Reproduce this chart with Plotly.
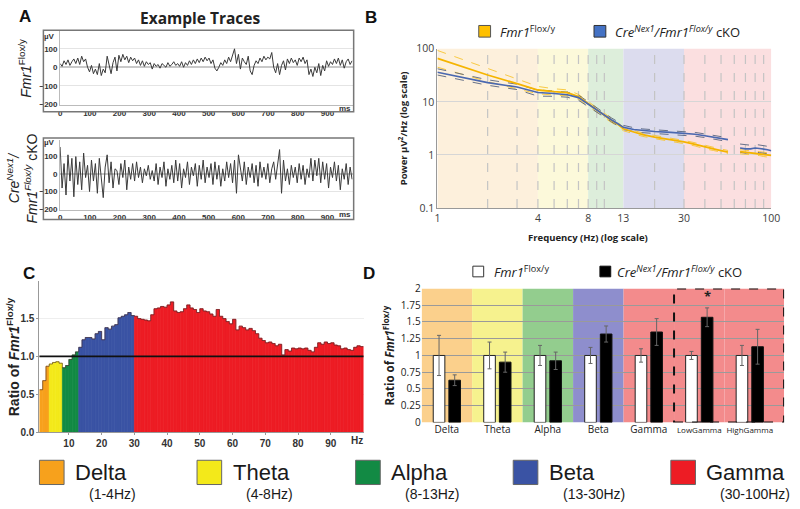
import numpy as np
import plotly.graph_objects as go

W, H = 800, 509

# ---------------- Panel A: example traces (µV) ----------------
trace_span_ms = 983
flox_trace = [20, 5, 35, 15, 40, 10, 30, 45, 20, 50,
              15, 60, 30, 45, 0, -25, 10, -35, -10, -40,
              20, -45, -10, -30, 60, 5, -35, 25, 55, -20,
              65, 30, 70, 40, 60, 25, 55, 35, 50, 20,
              40, 10, 35, 5, 30, 15, 25, -10, 20, 5,
              15, -5, 20, 10, 0, 25, 5, 15, 30, 10,
              20, 5, 30, 0, 25, 10, 35, 15, 40, 20,
              45, 25, 50, 30, 55, 35, 50, 20, 40, -5,
              -20, 0, 25, 10, 40, 20, 55, 30, 65, 100,
              20, 70, -10, 50, 30, 15, 60, -20, -40, 10,
              35, 20, 50, 30, 60, 40, 55, 45, 80, 0,
              -30, 20, -40, 10, 35, -15, 45, 20, 50, 25,
              40, 10, 50, 30, 55, 20, 40, -40, -10, -50,
              0, -30, 20, -45, 10, -20, 35, 5, 30, 15,
              45, 20, 50, 10, 40, -5, 30, 45, 15, 35]
cko_trace = [155, -80, 60, -120, 110, -40, 90, -130, 100, -60,
             70, -90, 120, -20, 50, -100, 80, -40, 60, -110,
             90, -30, -135, 40, 110, -50, 70, -80, 30, 20,
             -60, 60, -20, 80, -90, 40, -30, 60, -40, 70,
             -20, 40, -50, 30, -10, 50, -30, 20, -40, 60,
             -60, 40, -20, 70, -70, 30, -30, 50, -50, 80,
             -40, 60, -80, 30, -20, 70, -60, 40, -10, 60,
             -70, 50, -30, 80, -50, 40, -20, 60, -60, 70,
             -30, 50, -70, 30, -40, 70, -20, 60, -50, 80,
             -110, 110, 20, -40, 70, -60, 40, -20, 60, -50,
             50, -70, 70, -20, 40, -30, 60, -50, 30, 70,
             -30, 50, 140, -110, 80, -40, 30, -60, 50, -20,
             40, -50, 60, -30, 50, -60, 30, -20, 90, -40,
             80, -10, 90, -50, 70, -30, 60, -80, 40, -20,
             70, -40, 50, -90, 30, -30, 60, -60, 40, -30]
trace_xticks = [0, 100, 200, 300, 400, 500, 600, 700, 800, 900]
trace_yticks = [-200, -100, 0, 100]

# ---------------- Panel B: power spectra ----------------
psd_freq = [1, 2, 3, 4, 5, 6, 7, 8, 9, 10, 11, 12, 13, 15, 17, 20, 25, 30, 35, 40, 45, 50, 55, 60,
            65, 70, 75, 80, 85, 90, 95, 100]
flox_mean = [66, 32, 22, 16.7, 15.5, 14.9, 12.5, 9.2, 7.2, 5.6, 4.5, 3.8, 3.1,
             2.7, 2.4, 2.17, 1.95, 1.75, 1.58, 1.4, 1.3, 1.2, 1.13, None,
             1.15, 1.12, 1.12, 1.08, 1.06, 1.02, 1.0, 0.98]
flox_upper = [93, 42, 27, 19.5, 17.6, 16.8, 13.8, 10.1, 7.8, 6.1, 4.9, 4.1, 3.35,
              2.9, 2.57, 2.32, 2.09, 1.87, 1.69, 1.5, 1.39, 1.29, 1.21, None,
              1.25, 1.21, 1.21, 1.17, 1.15, 1.11, 1.09, 1.07]
flox_lower = [45, 24, 17.5, 14.2, 13.4, 13.0, 11.2, 8.3, 6.6, 5.1, 4.1, 3.5, 2.85,
              2.5, 2.23, 2.02, 1.81, 1.63, 1.47, 1.3, 1.21, 1.11, 1.05, None,
              1.05, 1.03, 1.03, 0.99, 0.97, 0.93, 0.91, 0.89]
cko_mean = [36, 23, 19, 15, 14.3, 13.6, 12.0, 9.0, 7.0, 5.5, 4.6, 3.9, 3.3,
            3.0, 2.85, 2.75, 2.65, 2.57, 2.45, 2.3, 2.15, 2.02, 1.94, None,
            1.35, 1.3, 1.3, 1.35, 1.32, 1.3, 1.25, 1.2]
cko_upper = [42, 26, 21.5, 16.7, 16.0, 15.2, 13.4, 10.0, 7.7, 6.0, 5.0, 4.25, 3.6,
             3.25, 3.08, 2.97, 2.86, 2.77, 2.65, 2.48, 2.33, 2.18, 2.1, None,
             1.6, 1.55, 1.52, 1.58, 1.55, 1.5, 1.45, 1.38]
cko_lower = [32, 20.5, 17, 12.8, 12.7, 12.2, 10.7, 8.1, 6.3, 5.0, 4.2, 3.55, 3.0,
             2.76, 2.62, 2.53, 2.44, 2.37, 2.25, 2.12, 1.98, 1.86, 1.78, None,
             1.12, 1.08, 1.1, 1.14, 1.1, 1.08, 1.05, 1.0]
psd_xticks = [1, 4, 8, 13, 30, 100]
psd_yticks = [0.1, 1, 10, 100]
psd_grid_freq = [2, 3, 4, 5, 6, 7, 8, 9, 10, 20, 30, 40, 50, 60, 70, 80, 90]

# ---------------- Bands ----------------
band_names = ["Delta", "Theta", "Alpha", "Beta", "Gamma"]
band_ranges = ["(1-4Hz)", "(4-8Hz)", "(8-13Hz)", "(13-30Hz)", "(30-100Hz)"]
band_edges = [1, 4, 8, 13, 30, 100]
band_colors = ["#f7a11c", "#f3e91a", "#128a44", "#3a53a4", "#ed1c24"]
band_light = ["#fdf0dc", "#fcf9da", "#ddeedb", "#dcdcee", "#fbdfe0"]

# ---------------- Panel C: ratio per 1-Hz bin ----------------
ratio_freq = list(range(1, 100))
ratio_values = [0.56, 0.68, 0.87,
                0.90, 0.92, 0.93, 0.91,
                0.85, 0.88, 0.96, 1.02, 1.06,
                1.12, 1.22, 1.25, 1.25, 1.23, 1.30, 1.33, 1.22, 1.38, 1.36, 1.40, 1.42, 1.51,
                1.53, 1.55, 1.58, 1.54,
                1.53, 1.50, 1.49, 1.48, 1.47, 1.55, 1.63, 1.64, 1.66, 1.65,
                1.68, 1.72, 1.60, 1.58, 1.59, 1.63, 1.68, 1.64, 1.62, 1.58,
                1.63, 1.60, 1.59, 1.56, 1.53, 1.62, 1.53, 1.50, 1.46, 1.43,
                1.49, 1.35, 1.40, 1.38, 1.35, 1.37, 1.34, 1.30, 1.24, 1.21,
                1.18, 1.19, 1.17, 1.14, 1.16, 1.02, 1.09, 1.07, 1.11, 1.10,
                1.11, 1.10, 1.11, 1.08, 1.06, 1.12, 1.18, 1.16, 1.19, 1.17,
                1.18, 1.15, 1.14, 1.10, 1.11, 1.09, 1.08, 1.12, 1.14, 1.13]
ratio_xticks = [10, 20, 30, 40, 50, 60, 70, 80, 90]
ratio_yticks = [0, 0.5, 1.0, 1.5]

# ---------------- Panel D: band ratios ----------------
d_bands = ["Delta", "Theta", "Alpha", "Beta", "Gamma", "LowGamma", "HighGamma"]
d_flox = [1, 1, 1, 1, 1, 1, 1]
d_flox_err = [0.30, 0.20, 0.15, 0.12, 0.10, 0.06, 0.15]
d_cko = [0.63, 0.90, 0.92, 1.32, 1.35, 1.57, 1.13]
d_cko_err = [0.08, 0.15, 0.13, 0.12, 0.20, 0.14, 0.26]
d_bg = ["#fbd08c", "#f6f28e", "#93cd8e", "#8e8ecd", "#f38b8c", "#f38b8c", "#f38b8c"]
d_yticks = [0, 0.25, 0.5, 0.75, 1, 1.25, 1.5, 1.75, 2]
d_signif = "LowGamma"


def PX(x):
    return x / W


def PY(y):
    return 1 - y / H


fig = go.Figure()
shapes = []
anns = []


def ann(text, x, y, size, color="#222", family="Open Sans", angle=0, xanchor="center",
        yanchor="middle", weight="normal"):
    anns.append(dict(text=text, x=PX(x), y=PY(y), xref="paper", yref="paper", showarrow=False,
                     font=dict(size=size, color=color, family=family, weight=weight),
                     textangle=angle, xanchor=xanchor, yanchor=yanchor))


def box(x0, y0, x1, y1, fill, line="#555", width=1):
    shapes.append(dict(type="rect", xref="paper", yref="paper", x0=PX(x0), x1=PX(x1),
                       y0=PY(y1), y1=PY(y0), fillcolor=fill, line=dict(color=line, width=width)))


# ---- Panel A ----
for i, (vals, ax) in enumerate([(flox_trace, ("x", "y")), (cko_trace, ("x2", "y2"))]):
    fig.add_trace(go.Scatter(x=np.linspace(0, trace_span_ms, len(vals)), y=vals, mode="lines",
                             line=dict(color="#3a3a3a", width=1), xaxis=ax[0], yaxis=ax[1],
                             hoverinfo="skip"))
box(41, 23, 356, 107, "rgba(0,0,0,0)", "#777", 1.5)
box(41, 134, 356, 218, "rgba(0,0,0,0)", "#777", 1.5)
ann("µV", 47, 29, 8, "#333", "Liberation Sans", weight="bold")
ann("µV", 47, 139, 8, "#333", "Liberation Sans", weight="bold")
ann("ms", 347, 104, 8, "#333", "Liberation Sans", weight="bold")
ann("ms", 347, 213, 8, "#333", "Liberation Sans", weight="bold")
ann("Example Traces", 200, 10, 15.5, "#222", "Open Sans", weight="bold")
ann("<i>Fmr1</i><sup>Flox/y</sup>", 23, 62, 14, "#222", "Liberation Sans", angle=-90)
ann("<i>Cre<sup>Nex1</sup>/</i><br><i>Fmr1<sup>Flox/y</sup></i> cKO", 19, 176, 14, "#222",
    "Liberation Sans", angle=-90)

# ---- Panel B ----
for lo, hi, col in zip(band_edges[:-1], band_edges[1:], band_light):
    shapes.append(dict(type="rect", xref="x3", yref="y3 domain", x0=lo, x1=hi,
                       y0=0, y1=1, fillcolor=col, line=dict(width=0), layer="below"))
for f in psd_grid_freq:
    shapes.append(dict(type="line", xref="x3", yref="y3 domain", x0=f, x1=f,
                       y0=0, y1=1, line=dict(color="#c4c4c4", width=1.2, dash="dash"), layer="below"))
for vals, col, wd, dash in [(flox_upper, "#f7c431", 0.9, "dash"), (flox_lower, "#f7c431", 0.9, "dash"),
                            (cko_upper, "#56637f", 0.9, "dash"), (cko_lower, "#56637f", 0.9, "dash"),
                            (flox_mean, "#f5b400", 1.8, "solid"), (cko_mean, "#4a68b0", 1.6, "solid")]:
    fig.add_trace(go.Scatter(x=psd_freq, y=vals, mode="lines", connectgaps=False,
                             line=dict(color=col, width=wd, dash=dash), xaxis="x3", yaxis="y3",
                             hoverinfo="skip"))
box(483, 18, 495, 30, "#ffc000", "#555", 1)
box(600, 18, 612, 30, "#4472c4", "#333", 1)
ann("<i>Fmr1</i><sup>Flox/y</sup>", 503, 24, 13, "#222", xanchor="left")
ann("<i>Cre<sup>Nex1</sup>/Fmr1<sup>Flox/y</sup></i> cKO", 619, 24, 13, "#222", xanchor="left")
ann("<b>Power µV<sup>2</sup>/Hz (log scale)</b>", 406, 124, 9.5, "#222", angle=-90)
ann("<b>Frequency (Hz) (log scale)</b>", 594, 236, 9.5, "#222")

# ---- Panel C ----
ratio_colors = []
for f in ratio_freq:
    for k in range(len(band_colors)):
        if band_edges[k] <= f < band_edges[k + 1]:
            ratio_colors.append(band_colors[k])
            break
fig.add_trace(go.Bar(x=[f + 0.5 for f in ratio_freq], y=ratio_values, width=1,
                     marker=dict(color=ratio_colors, line=dict(width=0.7, color=ratio_colors)),
                     xaxis="x4", yaxis="y4", hoverinfo="skip"))
fig.add_trace(go.Scatter(x=ratio_freq + [ratio_freq[-1] + 1], y=ratio_values + [ratio_values[-1]],
                         mode="lines", line=dict(shape="hv", color="rgba(70,40,40,0.75)", width=0.8),
                         xaxis="x4", yaxis="y4", hoverinfo="skip"))
shapes.append(dict(type="line", xref="x4 domain", yref="y4", x0=0, x1=1, y0=1, y1=1,
                   line=dict(color="#111", width=1.8), layer="above"))
ann("<b>Ratio of <i>Fmr1</i><sup>Flox/y</sup></b>", 11, 359, 14, "#222", "Liberation Sans", angle=-90)
ann("Hz", 359, 446, 10, "#333", "Liberation Sans", weight="bold")

# ---- Panel D ----
for i, col in enumerate(d_bg):
    x1 = i + 0.5 if i < len(d_bg) - 1 else 6.68
    shapes.append(dict(type="rect", xref="x5", yref="y5", x0=i - 0.5, x1=x1, y0=0, y1=2,
                       fillcolor=col, line=dict(width=0), layer="below"))
shapes.append(dict(type="rect", xref="x5", yref="y5", x0=d_bands.index("LowGamma") - 0.5, x1=6.68,
                   y0=0, y1=2, fillcolor="rgba(0,0,0,0)", line=dict(color="#111", width=2, dash="dash"),
                   layer="above"))
fig.add_trace(go.Bar(x=d_bands, y=d_flox, width=0.23, offset=-0.27,
                     marker=dict(color="white", line=dict(color="#222", width=1)),
                     error_y=dict(type="data", array=d_flox_err, color="#666", thickness=1, width=2),
                     xaxis="x5", yaxis="y5", hoverinfo="skip"))
fig.add_trace(go.Bar(x=d_bands, y=d_cko, width=0.23, offset=0.04,
                     marker=dict(color="black", line=dict(color="#111", width=1)),
                     error_y=dict(type="data", array=d_cko_err, color="#666", thickness=1, width=2),
                     xaxis="x5", yaxis="y5", hoverinfo="skip"))
si = d_bands.index(d_signif)
anns.append(dict(text="<b>*</b>", x=d_signif, y=d_cko[si] + d_cko_err[si], xref="x5", yref="y5",
                 xshift=8, yshift=1, showarrow=False, yanchor="bottom",
                 font=dict(size=13, color="#222", family="Open Sans")))
box(477, 266, 488, 277, "white", "#333", 1)
box(606, 266, 617, 277, "black", "#111", 1)
ann("<i>Fmr1</i><sup>Flox/y</sup>", 496, 271, 13, "#222", xanchor="left")
ann("<i>Cre<sup>Nex1</sup>/Fmr1<sup>Flox/y</sup></i> cKO", 621, 271, 13, "#222", xanchor="left")
ann("<b>Ratio of <i>Fmr1</i><sup>Flox/y</sup></b>", 391, 358, 11.5, "#222", angle=-90)
d_ticktext = [b if len(b) < 7 else '<span style="font-size:8px">%s</span>' % b for b in d_bands]

# ---- Bottom legend ----
sq_left = [37, 197, 358, 518, 678]
for name, rng, col, x0 in zip(band_names, band_ranges, band_colors, sq_left):
    box(x0, 466, x0 + 25, 491, col, "#666", 1)
    ann(name, x0 + 34, 479, 22, "#1a1a1a", "Liberation Sans", xanchor="left")
    ann(rng, x0 + 48, 501, 14, "#1a1a1a", "Liberation Sans", xanchor="left")

# ---- Panel letters ----
for letter, x, y in [("A", 22, 9), ("B", 374, 10), ("C", 26, 274), ("D", 372, 274)]:
    ann(letter, x, y, 17, "#111", "Liberation Sans", weight="bold")

tf_a = dict(family="Liberation Sans", size=8, color="#333", weight="bold")
tf_b = dict(family="Open Sans", size=10.5, color="#404040")
tf_c = dict(family="Liberation Sans", size=10, color="#333", weight="bold")
tf_d = dict(family="Open Sans", size=10, color="#222")

fig.update_layout(
    width=W, height=H, margin=dict(l=0, r=0, t=0, b=0), autosize=False,
    paper_bgcolor="white", plot_bgcolor="white", showlegend=False,
    font=dict(family="Open Sans", color="#222"),
    shapes=shapes, annotations=anns,
    xaxis=dict(domain=[PX(58), PX(355)], range=[0, 985], tickvals=trace_xticks, tickfont=tf_a,
               showgrid=False, zeroline=False, showline=True, linecolor="#bbb", ticks="", anchor="y"),
    yaxis=dict(domain=[PY(100), PY(24)], range=[-205, 195], tickvals=trace_yticks, tickfont=tf_a,
               showgrid=True, gridcolor="#e4e4e4", zeroline=True, zerolinecolor="#c8c8c8",
               showline=True, linecolor="#bbb", ticks="", anchor="x"),
    xaxis2=dict(domain=[PX(58), PX(355)], range=[0, 985], tickvals=trace_xticks, tickfont=tf_a,
                showgrid=False, zeroline=False, showline=True, linecolor="#bbb", ticks="", anchor="y2"),
    yaxis2=dict(domain=[PY(208), PY(136)], range=[-205, 195], tickvals=trace_yticks, tickfont=tf_a,
                showgrid=True, gridcolor="#e4e4e4", zeroline=True, zerolinecolor="#c8c8c8",
                showline=True, linecolor="#bbb", ticks="", anchor="x2"),
    xaxis3=dict(domain=[PX(441), PX(780)], type="log", range=[0, 2], tickvals=psd_xticks,
                ticktext=[str(v) for v in psd_xticks], tickfont=tf_b, showgrid=False, zeroline=False,
                showline=True, linecolor="#999", ticks="", anchor="y3"),
    yaxis3=dict(domain=[PY(206), PY(42)], type="log", range=[-1, 2], tickvals=psd_yticks,
                ticktext=["0.1", "1", "10", "100"], tickfont=tf_b, showgrid=True, gridcolor="#d6d6d6",
                zeroline=False, showline=True, linecolor="#999", ticks="", anchor="x3"),
    xaxis4=dict(domain=[PX(37), PX(366)], range=[1, 100], tickvals=ratio_xticks, tickfont=tf_c,
                showgrid=False, zeroline=False, showline=True, linecolor="#999", ticks="outside",
                ticklen=2, tickcolor="#999", anchor="y4"),
    yaxis4=dict(domain=[PY(437), PY(281)], range=[0, 2], tickvals=ratio_yticks,
                ticktext=["0.0", "0.5", "1.0", "1.5"], tickfont=tf_c, showgrid=True, gridcolor="#eeeeee",
                zeroline=False, showline=True, linecolor="#999", ticks="outside", ticklen=2,
                tickcolor="#999", anchor="x4"),
    xaxis5=dict(domain=[PX(425), PX(793)], type="category", range=[-0.5, 6.68], tickvals=d_bands,
                ticktext=d_ticktext, tickfont=tf_d, showgrid=False, zeroline=False, showline=False,
                ticks="", anchor="y5"),
    yaxis5=dict(domain=[PY(427), PY(289)], range=[0, 2], tickvals=d_yticks,
                ticktext=["0", "0.25", "0.5", "0.75", "1", "1.25", "1.5", "1.75", "2"], tickfont=tf_d,
                showgrid=True, gridcolor="#9a9a9a", gridwidth=1, zeroline=False, showline=False,
                ticks="", anchor="x5"),
)

fig.write_html("out.html", config={"displayModeBar": False},
               post_script="document.body.style.margin='0';document.body.style.overflow='hidden';")
